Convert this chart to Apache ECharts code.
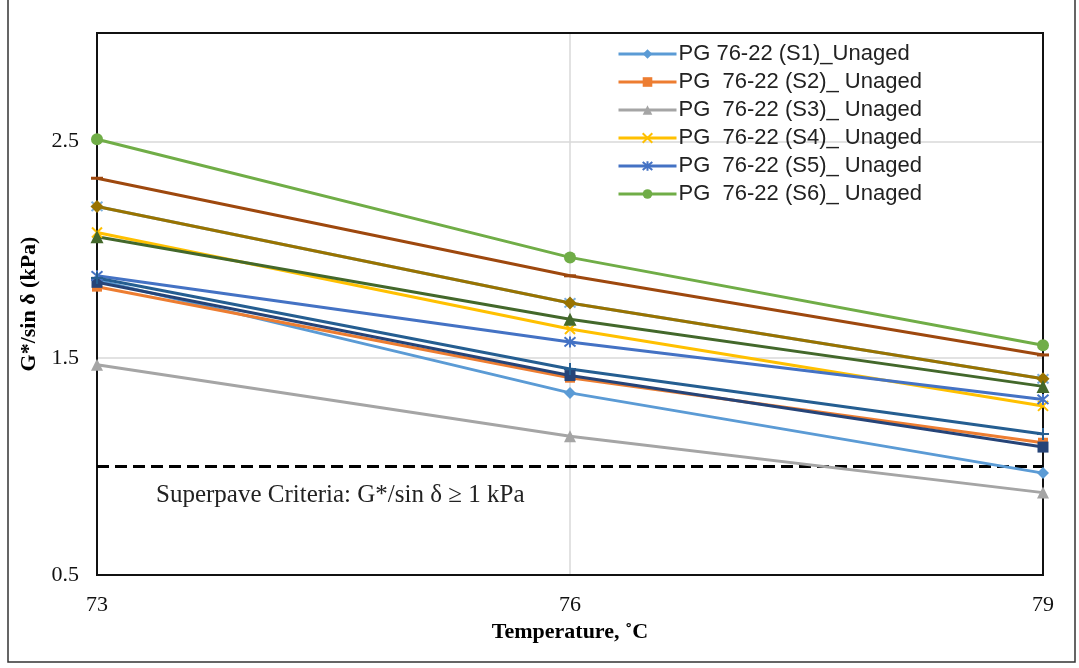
<!DOCTYPE html>
<html>
<head>
<meta charset="utf-8">
<script src="https://cdn.jsdelivr.net/npm/echarts@6/dist/echarts.min.js"></script>
<style>html,body{margin:0;padding:0;background:#fff;}#c{width:1079px;height:668px;}</style>
</head>
<body>
<div id="c"></div>
<script>
// ---- data ----
var temps = [73, 76, 79];
var xTicks = [73, 76, 79];
var yTicks = [0.5, 1.5, 2.5];
var s1 = [1.86, 1.34, 0.97];   // PG 76-22 (S1)_Unaged
var s2 = [1.83, 1.41, 1.11];   // PG 76-22 (S2)_ Unaged
var s3 = [1.47, 1.14, 0.88];   // PG 76-22 (S3)_ Unaged
var s4 = [2.08, 1.635, 1.28];  // PG 76-22 (S4)_ Unaged
var s5 = [1.88, 1.575, 1.31];  // PG 76-22 (S5)_ Unaged
var s6 = [2.51, 1.965, 1.56];  // PG 76-22 (S6)_ Unaged
// unlabeled series (no legend entry in the original)
var h7 = [1.85, 1.42, 1.09];
var h8 = [2.33, 1.88, 1.515];
var h10 = [2.2, 1.755, 1.405];
var h11 = [1.87, 1.45, 1.15];
var h12 = [2.06, 1.68, 1.37];
var h13 = [2.2, 1.755, 1.405];
var criteria = [[73, 1.0], [79, 1.0]];
var criteriaText = 'Superpave Criteria: G*/sin δ ≥ 1 kPa';
var legendNames = ['PG 76-22 (S1)_Unaged', 'PG  76-22 (S2)_ Unaged', 'PG  76-22 (S3)_ Unaged',
                   'PG  76-22 (S4)_ Unaged', 'PG  76-22 (S5)_ Unaged', 'PG  76-22 (S6)_ Unaged'];

var X = 'path://M0,0L10,10M10,0L0,10';
var STAR = 'path://M0,0L10,10M10,0L0,10M5,-1L5,11';
var PLUS = 'path://M5,0L5,10M0,5L10,5';

function pts(arr) { return temps.map(function (t, i) { return [t, arr[i]]; }); }
function mk(name, arr, color, symbol, size, stroked) {
  return {
    name: name, type: 'line', data: pts(arr),
    symbol: symbol, symbolSize: size,
    lineStyle: { color: color, width: 3 },
    itemStyle: stroked ? { color: 'rgba(0,0,0,0)', borderColor: color, borderWidth: 2 } : { color: color, borderWidth: 0 },
    emphasis: { disabled: true }
  };
}

var series = [
  mk(legendNames[0], s1, '#5B9BD5', 'diamond', 12, false),
  mk(legendNames[1], s2, '#ED7D31', 'rect', 10, false),
  mk(legendNames[2], s3, '#A5A5A5', 'triangle', 12, false),
  mk('h13', h13, '#7CAFDD', STAR, 11, true),
  mk('h7', h7, '#264478', 'rect', 11, false),
  mk(legendNames[3], s4, '#FFC000', X, 10, true),
  mk(legendNames[4], s5, '#4472C4', STAR, 11, true),
  mk('h10', h10, '#997300', 'diamond', 13, false),
  mk('h12', h12, '#43682B', 'triangle', 13, false),
  mk('h8', h8, '#9E480E', 'rect', [12, 3], false),
  mk('h11', h11, '#255E91', PLUS, 12, true),
  mk(legendNames[5], s6, '#70AD47', 'circle', 12, false),
  {
    name: 'criteria', type: 'line', data: criteria, symbol: 'none',
    lineStyle: { color: '#000', width: 3, type: [12, 6] }, z: 1,
    emphasis: { disabled: true }
  }
];

var G = { left: 97, right: 36, top: 33, bottom: 93 };
var chart = echarts.init(document.getElementById('c'), null, { renderer: 'canvas' });
chart.setOption({
  animation: false,
  backgroundColor: '#fff',
  grid: G,
  legend: {
    data: legendNames.map(function (n) { return { name: n }; }),
    orient: 'vertical', left: 612, top: 38,
    itemWidth: 58, itemHeight: 12, itemGap: 6,
    lineStyle: { width: 3 },
    textStyle: { fontFamily: 'Liberation Sans, Arial, sans-serif', fontSize: 22, color: '#222', padding: [0, 0, 0, -3] },
    selectedMode: false
  },
  xAxis: {
    type: 'value', min: 73, max: 79, interval: 3,
    name: 'Temperature, ˚C', nameLocation: 'middle', nameGap: 46,
    nameTextStyle: { fontFamily: 'Liberation Serif, Times New Roman, serif', fontWeight: 'bold', fontSize: 22, color: '#000' },
    axisLine: { show: true, lineStyle: { color: '#000', width: 1.5 } },
    axisTick: { show: false },
    axisLabel: { margin: 19, fontFamily: 'Liberation Serif, Times New Roman, serif', fontSize: 22, color: '#111',
      formatter: function (v) { return xTicks.indexOf(v) >= 0 ? String(v) : ''; } },
    splitLine: { show: true, lineStyle: { color: '#D9D9D9', width: 1.5 } }
  },
  yAxis: {
    type: 'value', min: 0.5, max: 3, interval: 1,
    name: 'G*/sin δ (kPa)', nameLocation: 'middle', nameGap: 56, nameRotate: 90,
    nameTextStyle: { fontFamily: 'Liberation Serif, Times New Roman, serif', fontWeight: 'bold', fontSize: 22, color: '#000' },
    axisLine: { show: true, lineStyle: { color: '#000', width: 1.5 } },
    axisTick: { show: false },
    axisLabel: { margin: 18, fontFamily: 'Liberation Serif, Times New Roman, serif', fontSize: 22, color: '#111',
      formatter: function (v) { return yTicks.indexOf(Math.round(v * 10) / 10) >= 0 ? v.toFixed(1) : ''; } },
    splitLine: { show: true, lineStyle: { color: '#D9D9D9', width: 1.5 } }
  },
  graphic: [
    { type: 'rect', shape: { x: 8, y: -5, width: 1067, height: 667 }, style: { fill: 'none', stroke: '#333', lineWidth: 1.5 }, silent: true, z: 100 },
    { type: 'rect', shape: { x: G.left, y: G.top, width: 1079 - G.left - G.right, height: 668 - G.top - G.bottom },
      style: { fill: 'none', stroke: '#111', lineWidth: 2 }, silent: true, z: 1 },
    { type: 'text', left: 156, top: 483, style: { text: criteriaText, fontFamily: 'Liberation Serif, Times New Roman, serif', fontSize: 25, fill: '#222' }, z: 100 }
  ],
  series: series
});
</script>
</body>
</html>
